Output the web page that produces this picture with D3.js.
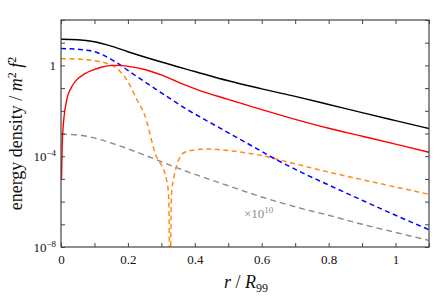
<!DOCTYPE html>
<html lang="en">
<head>
<meta charset="UTF-8">
<title>energy density</title>
<script src="https://cdn.jsdelivr.net/npm/d3@7"></script>
<style>
    body { margin: 0; background: #fff; }
    text { font-family: "Liberation Serif", "DejaVu Serif", serif; }
</style>
</head>
<body>
<script>
    // radius r / R99 and energy densities
    var blackR = [0, 0.05, 0.1, 0.15, 0.2, 0.3, 0.4, 0.5, 0.6, 0.7, 0.8, 0.9, 1.0, 1.1];
    var blackV = [14.1, 13.5, 11.0, 7.1, 4.0, 1.41, 0.54, 0.21, 0.093, 0.043, 0.019, 0.0083, 0.0037, 0.00166];

    var redR = [0.0015, 0.005, 0.017, 0.03, 0.047, 0.07, 0.096, 0.12, 0.146, 0.17, 0.2, 0.25, 0.3, 0.37, 0.415, 0.5, 0.6, 0.7, 0.8, 0.9, 1.0, 1.1];
    var redV = [1e-5, 1e-3, 0.030, 0.10, 0.23, 0.42, 0.63, 0.83, 0.98, 1.0, 0.91, 0.66, 0.38, 0.138, 0.078, 0.032, 0.0112, 0.0042, 0.0017, 0.00076, 0.00034, 0.00015];

    var blueR = [0, 0.05, 0.1, 0.125, 0.15, 0.175, 0.2, 0.25, 0.3, 0.37, 0.45, 0.55, 0.645, 0.714, 0.8, 0.9, 1.0, 1.1];
    var blueV = [5.5, 5.1, 4.0, 2.9, 1.86, 1.1, 0.60, 0.19, 0.062, 0.0132, 0.0028, 0.00042, 6.9e-5, 2.1e-5, 5.4e-6, 1.15e-6, 2.5e-7, 5.8e-8];

    var orangeR = [0, 0.05, 0.1, 0.13, 0.16, 0.186, 0.2, 0.23, 0.25, 0.281, 0.3155, 0.322, 0.326, 0.33, 0.336, 0.366, 0.4, 0.43, 0.5, 0.6, 0.7, 0.8, 0.9, 1.0, 1.1];
    var orangeV = [2.0, 1.9, 1.62, 1.32, 0.89, 0.38, 0.19, 0.025, 0.0066, 1.4e-4, 9.1e-6, 1.6e-6, 1e-10, 1.6e-6, 9.1e-6, 1.38e-4, 1.9e-4, 2.1e-4, 1.78e-4, 1.07e-4, 4.6e-5, 2.0e-5, 9.3e-6, 4.4e-6, 2.1e-6];

    var grayR = [0, 0.05, 0.1, 0.18, 0.25, 0.31, 0.37, 0.5, 0.6, 0.714, 0.8, 0.9, 1.0, 1.1];
    var grayV = [9.3e-4, 8.7e-4, 6.3e-4, 2.7e-4, 1.12e-4, 5.0e-5, 2.3e-5, 5.0e-6, 1.6e-6, 5.2e-7, 2.5e-7, 1.0e-7, 4.4e-8, 1.95e-8];

    var xTicks = [0, 0.1, 0.2, 0.3, 0.4, 0.5, 0.6, 0.7, 0.8, 0.9, 1.0, 1.1];
    var xLabels = [0, 0.2, 0.4, 0.6, 0.8, 1.0];
    var yTicks = [1e-8, 1e-7, 1e-6, 1e-5, 1e-4, 1e-3, 1e-2, 1e-1, 1, 1e1, 1e2];
    var yLabels = [1e-8, 1e-4, 1];

    var width = 436, height = 303;
    var m = {left: 61, right: 429, top: 20, bottom: 247};

    var svg = d3.select("body").append("svg")
        .attr("width", width)
        .attr("height", height);

    var x = d3.scaleLinear().domain([0, 1.1]).range([m.left, m.right]);
    var y = d3.scaleLog().domain([1e-8, 1e2]).range([m.bottom, m.top]);

    svg.append("clipPath").attr("id", "plotclip")
        .append("rect")
        .attr("x", m.left).attr("y", m.top)
        .attr("width", m.right - m.left).attr("height", m.bottom - m.top);

    var line = d3.line()
        .x(function (d) { return x(d[0]); })
        .y(function (d) { return y(d[1]); })
        .curve(d3.curveMonotoneX);

    function pairs(rs, vs) {
        return rs.map(function (r, i) { return [r, vs[i]]; });
    }

    var series = [
        {r: grayR, v: grayV, color: "#8c8c8c", dash: "6,4", w: 1.4},
        {r: orangeR, v: orangeV, color: "#ff8c1a", dash: "5,3.5", w: 1.5},
        {r: blueR, v: blueV, color: "#0000ff", dash: "5,3.5", w: 1.5},
        {r: redR, v: redV, color: "#ff0000", dash: null, w: 1.4},
        {r: blackR, v: blackV, color: "#000000", dash: null, w: 1.4}
    ];

    var plot = svg.append("g").attr("clip-path", "url(#plotclip)");

    series.forEach(function (s) {
        plot.append("path")
            .attr("d", line(pairs(s.r, s.v)))
            .attr("fill", "none")
            .attr("stroke", s.color)
            .attr("stroke-width", s.w)
            .attr("stroke-dasharray", s.dash);
    });

    // axes with inward ticks
    var gx = svg.append("g")
        .attr("transform", "translate(0," + m.bottom + ")")
        .call(d3.axisBottom(x).tickValues(xTicks).tickSizeInner(-4).tickSizeOuter(0).tickPadding(8)
            .tickFormat(function (d) {
                return xLabels.some(function (l) { return Math.abs(l - d) < 1e-9; }) ? d3.format("~g")(d) : "";
            }));

    svg.append("g")
        .attr("transform", "translate(0," + m.top + ")")
        .call(d3.axisTop(x).tickValues(xTicks).tickSizeInner(-4).tickSizeOuter(0).tickFormat(""));

    var gy = svg.append("g")
        .attr("transform", "translate(" + m.left + ",0)")
        .call(d3.axisLeft(y).tickValues(yTicks).tickSizeInner(-4).tickSizeOuter(0).tickPadding(5)
            .tickFormat(function (d) {
                return yLabels.indexOf(d) >= 0 ? "L" : "";
            }));

    svg.append("g")
        .attr("transform", "translate(" + m.right + ",0)")
        .call(d3.axisRight(y).tickValues(yTicks).tickSizeInner(-4).tickSizeOuter(0).tickFormat(""));

    svg.selectAll(".domain").remove();
    svg.selectAll(".tick line").attr("stroke", "#444").attr("stroke-width", 1);
    gx.selectAll("text").attr("font-size", 13).attr("fill", "#111")
        .style("font-family", "'Liberation Serif', serif");

    gy.selectAll("text").each(function (d) {
        var t = d3.select(this);
        t.text(null).attr("font-size", 13).attr("fill", "#111")
            .style("font-family", "'Liberation Serif', serif");
        if (yLabels.indexOf(d) < 0) return;
        var e = Math.round(Math.log10(d));
        if (e === 0) {
            t.text("1");
        } else {
            t.append("tspan").text("10");
            t.append("tspan").attr("dy", -5).attr("font-size", 9).text("\u2212" + Math.abs(e));
        }
    });

    svg.append("rect")
        .attr("x", m.left).attr("y", m.top)
        .attr("width", m.right - m.left).attr("height", m.bottom - m.top)
        .attr("fill", "none")
        .attr("stroke", "#444")
        .attr("stroke-width", 1.2);

    // annotation for the scaled gray curve
    var ann = svg.append("text")
        .attr("x", 244).attr("y", 218)
        .attr("fill", "#8c8c8c")
        .attr("font-size", 13);
    ann.append("tspan").text("\u00d710");
    ann.append("tspan").attr("dy", -5).attr("font-size", 9).text("10");

    // axis titles
    var xt = svg.append("text")
        .attr("x", 246).attr("y", 288)
        .attr("text-anchor", "middle")
        .attr("font-size", 18)
        .attr("fill", "#111");
    xt.append("tspan").attr("font-style", "italic").text("r");
    xt.append("tspan").text(" / ");
    xt.append("tspan").attr("font-style", "italic").text("R");
    xt.append("tspan").attr("dy", 4).attr("font-size", 12).text("99");

    var yt = svg.append("text")
        .attr("transform", "translate(22," + ((m.top + m.bottom) / 2) + ") rotate(-90)")
        .attr("text-anchor", "middle")
        .attr("font-size", 18)
        .attr("fill", "#111");
    yt.append("tspan").text("energy density / ");
    yt.append("tspan").attr("font-style", "italic").text("m");
    yt.append("tspan").attr("dy", -6).attr("font-size", 12).text("2");
    yt.append("tspan").attr("dy", 6).text(" ");
    yt.append("tspan").attr("font-style", "italic").text("f");
    yt.append("tspan").attr("dy", -6).attr("font-size", 12).text("2");
</script>
</body>
</html>
